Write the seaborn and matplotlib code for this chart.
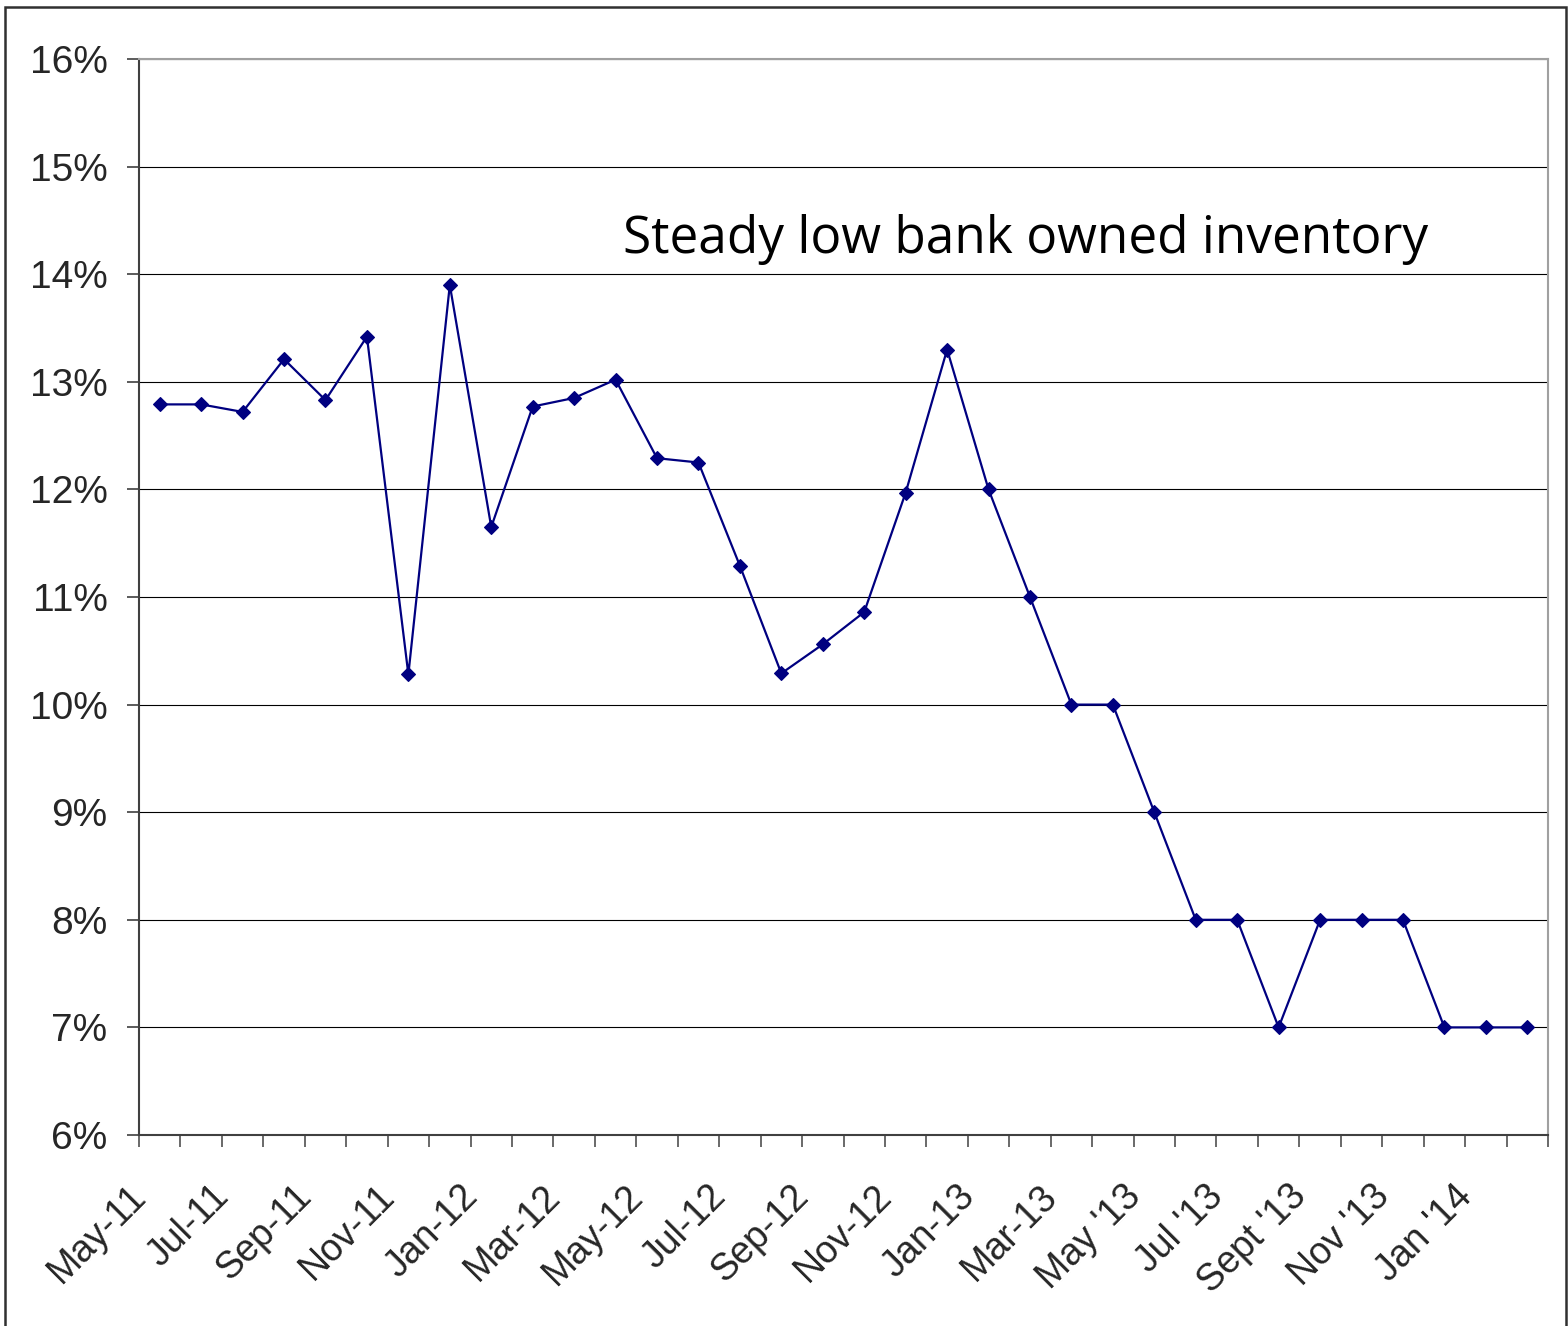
import matplotlib
matplotlib.use("Agg")
import matplotlib.pyplot as plt
import matplotlib.transforms as mtransforms
import seaborn as sns
import pandas as pd
from matplotlib.patches import Rectangle
from matplotlib.ticker import FixedLocator, FuncFormatter

months = ["May-11", "Jun-11", "Jul-11", "Aug-11", "Sep-11", "Oct-11", "Nov-11", "Dec-11",
          "Jan-12", "Feb-12", "Mar-12", "Apr-12", "May-12", "Jun-12", "Jul-12", "Aug-12",
          "Sep-12", "Oct-12", "Nov-12", "Dec-12", "Jan-13", "Feb-13", "Mar-13", "Apr-13",
          "May '13", "Jun '13", "Jul '13", "Aug '13", "Sept '13", "Oct '13", "Nov '13",
          "Dec '13", "Jan '14", "Feb '14"]
values = [12.79, 12.79, 12.72, 13.21, 12.83, 13.42, 10.28, 13.90,
          11.65, 12.77, 12.85, 13.02, 12.29, 12.25, 11.29, 10.29,
          10.56, 10.86, 11.97, 13.30, 12.00, 11.00, 10.00, 10.00,
          9.00, 8.00, 8.00, 7.00, 8.00, 8.00, 8.00,
          7.00, 7.00, 7.00]
tick_labels = ["May-11", "Jul-11", "Sep-11", "Nov-11", "Jan-12", "Mar-12", "May-12",
               "Jul-12", "Sep-12", "Nov-12", "Jan-13", "Mar-13", "May '13", "Jul '13",
               "Sept '13", "Nov '13", "Jan '14"]
annotation = "Steady low bank owned inventory"

df = pd.DataFrame({"pos": range(len(months)), "month": months, "value": values})

sns.set_style("white")
plt.rcParams['font.family'] = ['Liberation Sans', 'DejaVu Sans']

fig = plt.figure(figsize=(15.68, 13.26), dpi=100)
ax = fig.add_axes([139/1568, 1 - 1135/1326, (1548-139)/1568, (1135-59)/1326])

sns.lineplot(data=df, x="pos", y="value", ax=ax, color="#000080", linewidth=1.6,
             marker="D", markersize=7.2, markeredgecolor="#000080", markeredgewidth=0.8)

ax.set_xlim(-0.5, len(months) - 0.5)
ax.set_ylim(6, 16)
ax.set_yticks(range(6, 17))
ax.yaxis.set_major_formatter(FuncFormatter(lambda v, p: f"{int(round(v))}%"))
ax.grid(axis="y", color="black", linewidth=0.8)
ax.set_axisbelow(True)

label_pos = [months.index(l) for l in tick_labels]
ax.set_xticks(label_pos)
ax.set_xticklabels(tick_labels, rotation=45, ha="right", va="top", rotation_mode="anchor")
ax.xaxis.set_minor_locator(FixedLocator([i - 0.5 for i in range(len(months) + 1)]))
ax.tick_params(axis="x", which="major", length=0, pad=31, labelsize=27)
ax.tick_params(axis="x", which="minor", length=8.6, width=1.2, color="#505050", direction="out", bottom=True)
ax.tick_params(axis="y", which="major", length=8.6, width=1.2, color="#404040", direction="out", left=True, labelsize=28, pad=14)
ax.set_xlabel("")
ax.set_ylabel("")

offset = mtransforms.ScaledTranslation(-32/100, 0, fig.dpi_scale_trans)
for lab in ax.get_xticklabels():
    lab.set_transform(lab.get_transform() + offset)

for s in ["left", "bottom"]:
    ax.spines[s].set_color("#404040")
    ax.spines[s].set_linewidth(1.5)
for s in ["top", "right"]:
    ax.spines[s].set_color("#a0a0a0")
    ax.spines[s].set_linewidth(1.5)

ax.text((623-139)/1409, (1135-253)/1076, annotation, transform=ax.transAxes,
        fontsize=37, family=["Open Sans", "DejaVu Sans"], ha="left", va="baseline", color="black")

fig.patches.append(Rectangle((5/1568, -0.01), (1566-5)/1568, 1 - 7/1326 + 0.01,
                             transform=fig.transFigure, fill=False, edgecolor="#303030",
                             linewidth=1.8))

fig.savefig("out.png", dpi=100, facecolor="white")
